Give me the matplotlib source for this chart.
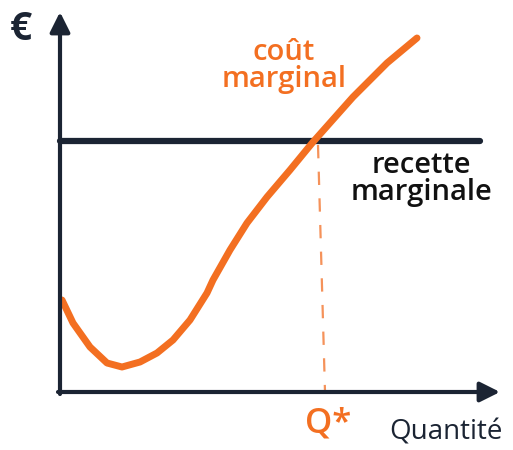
import matplotlib
matplotlib.use("Agg")
import matplotlib.pyplot as plt

# courbe du coût marginal (quantité, prix)
cm_q = [0.2, 1.3, 3.0, 4.7, 6.2, 8.0, 9.7, 11.3, 13.0, 14.7, 15.3, 17.0,
        18.7, 20.7, 23.0, 25.3, 29.3, 32.7, 35.7]
cm_p = [9.2, 6.9, 4.5, 2.9, 2.5, 3.0, 3.9, 5.2, 7.2, 9.9, 11.2, 14.2,
        16.9, 19.5, 22.2, 25.0, 29.5, 32.9, 35.4]

# recette marginale (horizontale)
rm_q = [0, 42]
rm_p = [25.1, 25.1]

# Q* (trait pointillé, légèrement penché comme sur le dessin)
qstar_q = [25.8, 26.5]
qstar_p = [24.7, 0]

orange = '#f36f21'
orange_light = '#f5925a'
navy = '#1b2433'

plt.rcParams['font.family'] = ['Open Sans', 'DejaVu Sans']

fig = plt.figure(figsize=(5.13, 4.5), dpi=100)
ax = fig.add_axes([0, 0, 1, 1])
ax.set_xlim(-6, 45.3)
ax.set_ylim(-5.8, 39.2)
ax.axis('off')

# axes avec flèches
ax.annotate('', xy=(0, 38.0), xytext=(0, -0.2),
            arrowprops=dict(arrowstyle='-|>', lw=3, color=navy, mutation_scale=30,
                            shrinkA=0, shrinkB=0))
ax.annotate('', xy=(44.0, 0), xytext=(-0.2, 0),
            arrowprops=dict(arrowstyle='-|>', lw=3, color=navy, mutation_scale=30,
                            shrinkA=0, shrinkB=0))

ax.plot(rm_q, rm_p, color=navy, lw=4.5, solid_capstyle='round')
ax.plot(qstar_q, qstar_p, color=orange_light, lw=1.6, dashes=(6, 6))
ax.plot(cm_q, cm_p, color=orange, lw=5, solid_capstyle='round', solid_joinstyle='round')

ax.text(22.4, 32.6, 'coût\nmarginal', color=orange, fontsize=21, fontweight='semibold',
        ha='center', va='center', linespacing=0.92)
ax.text(36.1, 21.3, 'recette\nmarginale', color='#111111', fontsize=21, fontweight='semibold',
        ha='center', va='center', linespacing=0.92)
ax.text(26.8, -3.1, 'Q*', color=orange, fontsize=25, fontweight='semibold',
        ha='center', va='center')
ax.text(38.6, -4.0, 'Quantité', color=navy, fontsize=20, ha='center', va='center')
ax.text(-3.9, 36.3, '€', color=navy, fontsize=28, fontweight='bold', ha='center', va='center')

fig.savefig('out.png', dpi=100)
